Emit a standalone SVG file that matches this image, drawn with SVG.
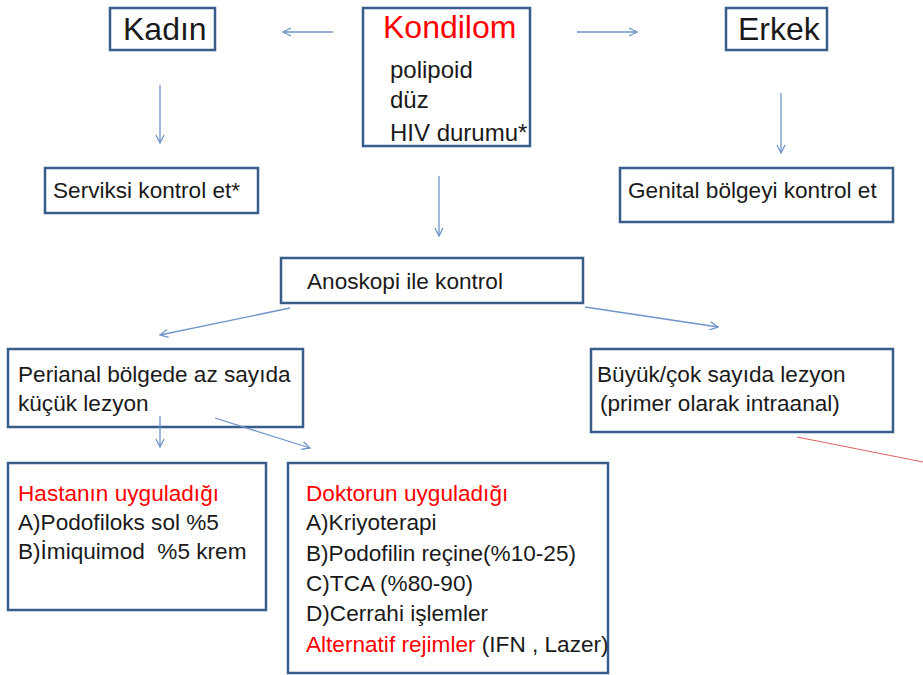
<svg xmlns="http://www.w3.org/2000/svg" width="923" height="675" viewBox="0 0 923 675">
<style>
.box{fill:#fff;stroke:#385d8a;stroke-width:2.5}
.t{font-family:"Liberation Sans",Arial,sans-serif;fill:#1a1a1a}
.c{font-family:"Liberation Sans",Arial,sans-serif;font-size:22.6px;fill:#1a1a1a;white-space:pre}
.red{fill:#ff0000}
.ar{stroke:#6f94c8;stroke-width:1.3;fill:none;marker-end:url(#ah)}
</style>
<defs>
<marker id="ah" viewBox="0 0 10 10" refX="9" refY="5" markerWidth="10" markerHeight="10" markerUnits="userSpaceOnUse" orient="auto">
<path d="M1,1 L9,5 L1,9" fill="none" stroke="#6f94c8" stroke-width="1.3"/>
</marker>
</defs>
<rect width="923" height="675" fill="#fff"/>
<g id="kadin">
<rect class="box" x="110" y="8" width="105" height="42"/>
<text class="t" x="123" y="40" font-size="32">Kadın</text>
</g>
<g id="kondilom">
<rect class="box" x="363" y="8" width="167" height="138"/>
<text class="t red" x="383" y="38" font-size="32">Kondilom</text>
<text class="t" x="390" y="78" font-size="24">polipoid</text>
<text class="t" x="390" y="108" font-size="24">düz</text>
<text class="t" x="390" y="141" font-size="24">HIV durumu*</text>
</g>
<g id="erkek">
<rect class="box" x="726" y="8" width="101" height="42"/>
<text class="t" x="738" y="40" font-size="32">Erkek</text>
</g>
<g id="serviks">
<rect class="box" x="45" y="168" width="213" height="45"/>
<text class="c" x="53" y="198">Serviksi kontrol et*</text>
</g>
<g id="genital">
<rect class="box" x="620" y="168" width="273" height="54"/>
<text class="c" x="628" y="198">Genital bölgeyi kontrol et</text>
</g>
<g id="anoskopi">
<rect class="box" x="281" y="258" width="302" height="45"/>
<text class="c" x="307" y="289">Anoskopi ile kontrol</text>
</g>
<g id="perianal">
<rect class="box" x="8" y="349" width="295" height="78"/>
<text class="c" x="18" y="382">Perianal bölgede az sayıda</text>
<text class="c" x="18" y="411">küçük lezyon</text>
</g>
<g id="buyuk">
<rect class="box" x="591" y="349" width="302" height="83"/>
<text class="c" x="597" y="382">Büyük/çok sayıda lezyon</text>
<text class="c" x="600" y="411">(primer olarak intraanal)</text>
</g>
<g id="hasta">
<rect class="box" x="8" y="463" width="258" height="147"/>
<text class="c red" x="18" y="501">Hastanın uyguladığı</text>
<text class="c" x="18" y="530">A)Podofiloks sol %5</text>
<text class="c" x="18" y="559">B)İmiquimod  %5 krem</text>
</g>
<g id="doktor">
<rect class="box" x="288" y="463" width="320" height="210"/>
<text class="c red" x="306" y="501">Doktorun uyguladığı</text>
<text class="c" x="306" y="530">A)Kriyoterapi</text>
<text class="c" x="306" y="561">B)Podofilin reçine(%10-25)</text>
<text class="c" x="306" y="591">C)TCA (%80-90)</text>
<text class="c" x="306" y="621">D)Cerrahi işlemler</text>
<text class="c" x="306" y="652"><tspan class="red">Alternatif rejimler</tspan> (IFN , Lazer)</text>
</g>
<g id="connectors">
<line class="ar" x1="333" y1="32" x2="283" y2="32"/>
<line class="ar" x1="577" y1="32" x2="637" y2="32"/>
<line class="ar" x1="160" y1="85" x2="160" y2="143"/>
<line class="ar" x1="781" y1="93" x2="781" y2="153"/>
<line class="ar" x1="439" y1="176" x2="439" y2="236"/>
<line class="ar" x1="290" y1="308" x2="160" y2="335"/>
<line class="ar" x1="585" y1="307" x2="718" y2="327"/>
<line class="ar" x1="160" y1="416" x2="160" y2="447"/>
<line class="ar" x1="215" y1="418" x2="310" y2="448"/>
<line x1="797" y1="437" x2="923" y2="462" stroke="#e06666" stroke-width="1.2"/>
</g>
</svg>
